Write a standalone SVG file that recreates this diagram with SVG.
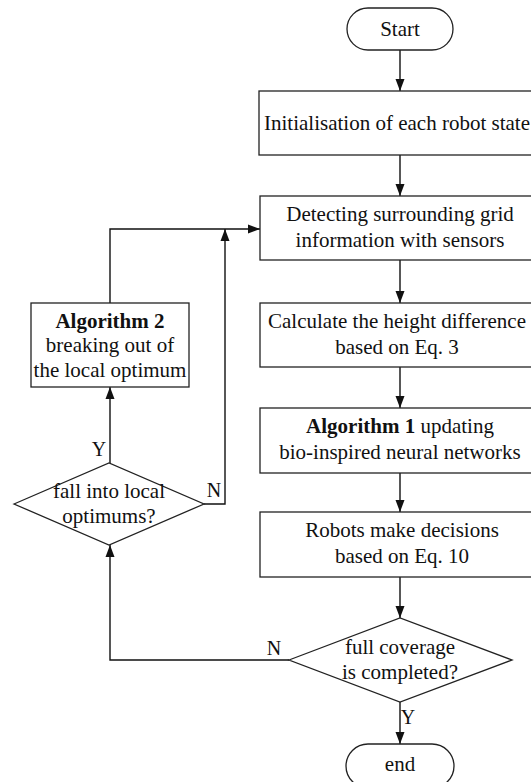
<svg xmlns="http://www.w3.org/2000/svg" width="531" height="782" viewBox="0 0 531 782">
<style>
  .box { fill: #ffffff; stroke: #222222; stroke-width: 1.3; }
  .t { font-family: "Liberation Serif", "Times New Roman", serif; font-size: 21px; fill: #111111; text-anchor: middle; }
  .b { font-weight: bold; }
  .lbl { font-family: "Liberation Serif", "Times New Roman", serif; font-size: 20px; fill: #111111; text-anchor: middle; }
  .conn { fill: none; stroke: #111111; stroke-width: 1.4; }
</style>
<defs>
  <marker id="arr" markerUnits="userSpaceOnUse" markerWidth="12" markerHeight="10" refX="12" refY="5" orient="auto">
    <path d="M0,0.5 L12,5 L0,9.5 z" fill="#111111"/>
  </marker>
</defs>
<rect width="531" height="782" fill="#ffffff"/>

<g id="connectors">
  <line class="conn" x1="400" y1="50" x2="400" y2="91" marker-end="url(#arr)"/>
  <line class="conn" x1="400" y1="155" x2="400" y2="196" marker-end="url(#arr)"/>
  <line class="conn" x1="400" y1="260" x2="400" y2="303" marker-end="url(#arr)"/>
  <line class="conn" x1="400" y1="367" x2="400" y2="408" marker-end="url(#arr)"/>
  <line class="conn" x1="400" y1="473" x2="400" y2="512" marker-end="url(#arr)"/>
  <line class="conn" x1="400" y1="577" x2="400" y2="618" marker-end="url(#arr)"/>
  <line class="conn" x1="400" y1="702" x2="400" y2="744" marker-end="url(#arr)"/>
  <polyline class="conn" points="289,660 110,660 110,545" marker-end="url(#arr)"/>
  <line class="conn" x1="110" y1="463" x2="110" y2="387" marker-end="url(#arr)"/>
  <polyline class="conn" points="204,504 225,504 225,229" marker-end="url(#arr)"/>
  <polyline class="conn" points="110,303 110,229 260,229" marker-end="url(#arr)"/>
  <text class="lbl" x="408" y="724">Y</text>
  <text class="lbl" x="274" y="655">N</text>
  <text class="lbl" x="99" y="456">Y</text>
  <text class="lbl" x="214" y="497">N</text>
</g>

<g id="start">
  <rect class="box" x="347" y="8" width="106" height="42" rx="21" ry="21"/>
  <text class="t" x="400" y="36">Start</text>
</g>

<g id="init">
  <rect class="box" x="259" y="91" width="290" height="64"/>
  <text class="t" x="397" y="130">Initialisation of each robot state</text>
</g>

<g id="detect">
  <rect class="box" x="260" y="196" width="290" height="64"/>
  <text class="t" x="400" y="221">Detecting surrounding grid</text>
  <text class="t" x="400" y="247">information with sensors</text>
</g>

<g id="calc">
  <rect class="box" x="260" y="303" width="290" height="64"/>
  <text class="t" x="397" y="328">Calculate the height difference</text>
  <text class="t" x="397" y="354">based on Eq. 3</text>
</g>

<g id="alg1">
  <rect class="box" x="260" y="408" width="290" height="65"/>
  <text class="t" x="400" y="433"><tspan class="b">Algorithm 1</tspan> updating</text>
  <text class="t" x="400" y="459">bio-inspired neural networks</text>
</g>

<g id="robots">
  <rect class="box" x="260" y="512" width="290" height="65"/>
  <text class="t" x="402" y="537">Robots make decisions</text>
  <text class="t" x="402" y="563">based on Eq. 10</text>
</g>

<g id="coverage">
  <polygon class="box" points="289,660 400,618 512,660 400,702"/>
  <text class="t" x="400" y="654">full coverage</text>
  <text class="t" x="400" y="679">is completed?</text>
</g>

<g id="end">
  <rect class="box" x="346" y="744" width="108" height="44" rx="22" ry="22"/>
  <text class="t" x="400" y="771">end</text>
</g>

<g id="alg2">
  <rect class="box" x="31" y="303" width="158" height="84"/>
  <text class="t b" x="110" y="328">Algorithm 2</text>
  <text class="t" x="110" y="352">breaking out of</text>
  <text class="t" x="110" y="377">the local optimum</text>
</g>

<g id="local">
  <polygon class="box" points="14,504 109,463 204,504 109,545"/>
  <text class="t" x="109" y="498">fall into local</text>
  <text class="t" x="109" y="523">optimums?</text>
</g>
</svg>
